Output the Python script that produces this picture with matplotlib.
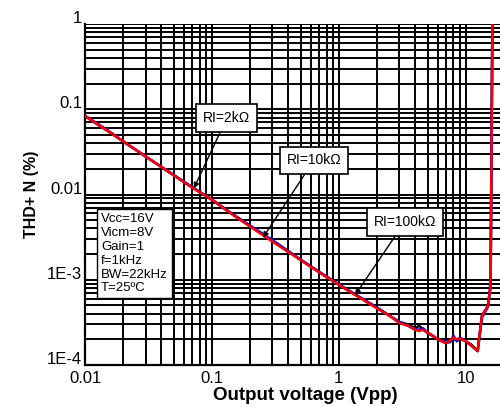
import matplotlib
matplotlib.use("Agg")
import matplotlib.pyplot as plt
import matplotlib.transforms as mtransforms
from matplotlib.ticker import FixedLocator, FixedFormatter, LogLocator, NullFormatter

plt.rcParams["font.family"] = ["Liberation Sans", "DejaVu Sans"]

# THD+N vs output voltage, three load resistances
volt = [0.01, 0.015, 0.02, 0.03, 0.05, 0.07, 0.1, 0.15, 0.2, 0.3, 0.5, 0.7, 1.0,
        1.5, 2.0, 2.5, 3.0, 3.5, 4.0, 4.3, 4.6, 5.0, 5.5, 6.0, 6.5, 7.0, 7.5,
        8.0, 8.5, 9.0, 10.0, 11.0, 12.4, 13.4, 14.9, 15.5, 15.7, 16.2]
thd_2k = [0.083, 0.056, 0.042, 0.028, 0.0168, 0.0121, 0.0087, 0.0057, 0.0043,
          0.0029, 0.00172, 0.00123, 0.00088, 0.00061, 0.00047, 0.00038, 0.00032,
          0.00030, 0.00027, 0.00029, 0.00026, 0.00024, 0.00022, 0.00020, 0.00019,
          0.00018, 0.00019, 0.00020, 0.00020, 0.000205, 0.00019, 0.000175, 0.000146,
          0.00038, 0.00049, 0.00074, 0.0012, 1.1]
thd_10k = [0.084, 0.057, 0.042, 0.028, 0.017, 0.0122, 0.0087, 0.0057, 0.0043,
           0.0029, 0.00172, 0.00124, 0.00088, 0.00061, 0.00047, 0.00038, 0.00032,
           0.00029, 0.00026, 0.00026, 0.00027, 0.00024, 0.00022, 0.00020, 0.00019,
           0.00019, 0.000185, 0.00022, 0.00019, 0.00021, 0.00019, 0.00017, 0.000146,
           0.00036, 0.00048, 0.00074, 0.0012, 1.1]
thd_100k = [0.083, 0.056, 0.042, 0.028, 0.0168, 0.012, 0.0087, 0.0056, 0.0042,
            0.0028, 0.0017, 0.00122, 0.00087, 0.0006, 0.00046, 0.00038, 0.00031,
            0.00029, 0.00026, 0.00025, 0.00026, 0.00024, 0.00022, 0.00020, 0.00019,
            0.00018, 0.000195, 0.00021, 0.00020, 0.000205, 0.00019, 0.00017, 0.000146,
            0.00038, 0.00049, 0.00074, 0.0012, 1.1]

x_ticks = [0.01, 0.1, 1, 10]
x_labels = ["0.01", "0.1", "1", "10"]
y_ticks = [1e-4, 1e-3, 1e-2, 1e-1, 1]
y_labels = ["1E-4", "1E-3", "0.01", "0.1", "1"]

conditions = "Vcc=16V\nVicm=8V\nGain=1\nf=1kHz\nBW=22kHz\nT=25ºC"

fig = plt.figure(figsize=(5, 4.07), dpi=100)
ax = fig.add_axes([0.17, 0.103, 0.838, 0.838])

ax.plot(volt, thd_2k, color="black", lw=1.8, zorder=3)
ax.plot(volt, thd_10k, color="blue", lw=1.9, zorder=4)
ax.plot(volt, thd_100k, color="red", lw=1.8, zorder=5)

ax.set_xscale("log")
ax.set_yscale("log")
ax.set_xlim(0.01, 20)
ax.set_ylim(1e-4, 1)

ax.xaxis.set_major_locator(FixedLocator(x_ticks))
ax.xaxis.set_major_formatter(FixedFormatter(x_labels))
ax.xaxis.set_minor_locator(FixedLocator(
    [m * d for d in [0.01, 0.1, 1] for m in range(2, 10)]))
ax.xaxis.set_minor_formatter(NullFormatter())
ax.yaxis.set_major_locator(FixedLocator(y_ticks))
ax.yaxis.set_major_formatter(FixedFormatter(y_labels))
ax.yaxis.set_minor_locator(LogLocator(base=10, subs=range(2, 10)))
ax.yaxis.set_minor_formatter(NullFormatter())

ax.grid(True, which="both", color="black", lw=1.4)
ax.tick_params(which="both", length=0, labelsize=12)
ax.tick_params(axis="x", pad=4)
ax.tick_params(axis="y", pad=2)
ax.spines["right"].set_visible(False)
ax.spines["top"].set_visible(False)
for s in ["left", "bottom"]:
    ax.spines[s].set_linewidth(1.6)

# y tick labels sit a little above their grid lines in the original
shift = mtransforms.ScaledTranslation(0, 7 / 100, fig.dpi_scale_trans)
for lbl in ax.get_yticklabels():
    lbl.set_transform(lbl.get_transform() + shift)

ax.set_xlabel("Output voltage (Vpp)", fontsize=13.5, fontweight="bold")
ax.xaxis.set_label_coords(0.525, -0.065)
ax.set_ylabel("THD+ N (%)", fontsize=11.5, fontweight="bold", labelpad=6)

box = dict(boxstyle="square,pad=0.5", fc="white", ec="black", lw=1.2)
arrow = dict(arrowstyle="-|>", color="black", lw=1, mutation_scale=8,
             shrinkA=0, shrinkB=0)
ax.annotate("RI=2kΩ", xy=(0.072, 0.0118), xytext=(0.131, 0.079),
            ha="center", va="center", fontsize=10, bbox=box, arrowprops=arrow, zorder=6)
ax.annotate("RI=10kΩ", xy=(0.252, 0.00312), xytext=(0.636, 0.0251),
            ha="center", va="center", fontsize=10, bbox=box, arrowprops=arrow, zorder=6)
ax.annotate("RI=100kΩ", xy=(1.34, 0.00066), xytext=(3.31, 0.00478),
            ha="center", va="center", fontsize=10, bbox=box, arrowprops=arrow, zorder=6)

ax.text(0.038, 0.445, conditions, transform=ax.transAxes, ha="left", va="top",
        fontsize=9.5, linespacing=1.2, zorder=6,
        bbox=dict(boxstyle="square,pad=0.3", fc="white", ec="black", lw=1))

fig.savefig("out.png", dpi=100)
